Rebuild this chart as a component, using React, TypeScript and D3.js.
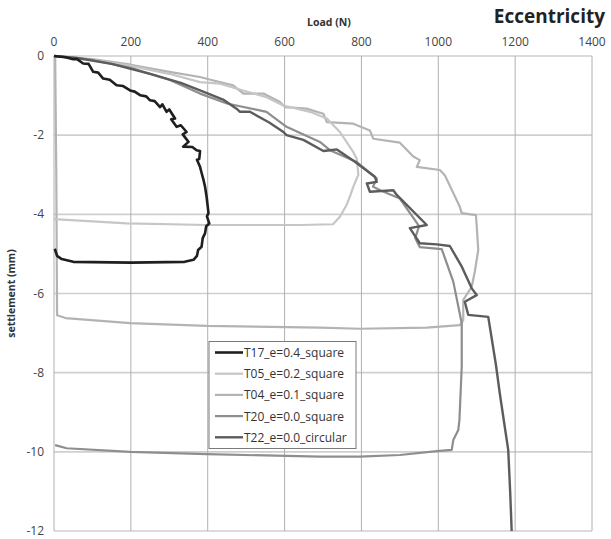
import React from "react";
import * as d3 from "d3";

const xTicks = [0, 200, 400, 600, 800, 1000, 1200, 1400];
const yTicks = [0, -2, -4, -6, -8, -10, -12];

const seriesNames = ["T17_e=0.4_square", "T05_e=0.2_square", "T04_e=0.1_square", "T20_e=0.0_square", "T22_e=0.0_circular"];
const seriesColors = ["#1f1f1f", "#c6c6c6", "#b3b3b3", "#8e8e8e", "#5c5c5c"];
const seriesWidths = [2.6, 2.2, 2.2, 2.2, 2.4];

const t17: [number, number][] = [[0,0],[30,-0.03],[50,-0.08],[60,-0.08],[76,-0.19],[90,-0.2],[102,-0.4],[115,-0.42],[128,-0.57],[145,-0.6],[163,-0.74],[180,-0.76],[198,-0.87],[210,-0.9],[224,-0.99],[240,-1.02],[250,-1.12],[262,-1.14],[276,-1.29],[282,-1.22],[293,-1.41],[300,-1.35],[315,-1.58],[305,-1.6],[319,-1.79],[330,-1.75],[345,-1.92],[335,-1.98],[350,-2.17],[336,-2.29],[360,-2.3],[371,-2.38],[380,-2.4],[378,-2.6],[372,-2.62],[380,-2.8],[384,-2.95],[389,-3.13],[393,-3.3],[397,-3.55],[400,-3.8],[402,-3.97],[398,-4.05],[404,-4.23],[396,-4.3],[393,-4.48],[387,-4.6],[384,-4.82],[375,-4.9],[372,-5.05],[363,-5.15],[340,-5.2],[200,-5.22],[50,-5.2],[20,-5.13],[8,-5.05],[2,-4.87]];

const t05: [number, number][] = [[0,0],[100,-0.1],[200,-0.25],[300,-0.45],[380,-0.66],[432,-0.7],[492,-0.87],[553,-1.04],[597,-1.25],[666,-1.41],[710,-1.58],[744,-1.92],[779,-2.43],[788,-2.6],[792,-3.0],[779,-3.3],[770,-3.55],[762,-3.75],[744,-4.06],[726,-4.25],[640,-4.27],[397,-4.27],[189,-4.23],[0,-4.12]];

const t04: [number, number][] = [[0,0],[100,-0.08],[200,-0.22],[300,-0.4],[380,-0.53],[415,-0.62],[466,-0.74],[493,-0.95],[545,-0.95],[588,-1.16],[601,-1.29],[657,-1.33],[701,-1.46],[710,-1.67],[779,-1.71],[822,-1.88],[831,-2.09],[900,-2.19],[935,-2.54],[952,-2.63],[944,-2.8],[1004,-2.88],[1017,-3.01],[1056,-3.81],[1061,-3.97],[1098,-4.02],[1100,-4.3],[1104,-4.9],[1095,-5.45],[1087,-5.83],[1065,-6.16],[1065,-6.67],[1056,-6.8],[970,-6.86],[796,-6.89],[692,-6.86],[397,-6.82],[198,-6.75],[30,-6.62],[8,-6.55],[6,-3],[3,0]];

const t20: [number, number][] = [[0,0],[100,-0.1],[200,-0.3],[300,-0.6],[380,-0.95],[450,-1.2],[553,-1.41],[605,-1.79],[692,-2.17],[718,-2.38],[788,-2.68],[814,-2.89],[840,-3.1],[830,-3.3],[850,-3.4],[900,-3.6],[950,-4.3],[940,-4.6],[952,-4.83],[1009,-4.88],[1039,-5.7],[1061,-6.75],[1061,-7.85],[1055,-9.2],[1052,-9.45],[1039,-9.7],[1035,-9.95],[996,-9.98],[900,-10.08],[796,-10.12],[692,-10.12],[397,-10.06],[198,-10.0],[33,-9.91],[3,-9.83]];

const t22: [number, number][] = [[0,0],[60,-0.05],[150,-0.2],[250,-0.45],[330,-0.68],[380,-0.87],[440,-1.1],[475,-1.33],[484,-1.41],[510,-1.41],[560,-1.68],[597,-1.92],[605,-2.0],[649,-2.12],[701,-2.4],[718,-2.38],[736,-2.36],[783,-2.67],[835,-3.05],[840,-3.18],[814,-3.22],[822,-3.43],[883,-3.39],[892,-3.51],[970,-4.27],[926,-4.35],[952,-4.73],[996,-4.76],[1030,-4.8],[1060,-5.3],[1087,-5.87],[1100,-6.04],[1069,-6.21],[1078,-6.54],[1130,-6.59],[1150,-7.8],[1160,-8.52],[1175,-9.5],[1182,-9.95],[1187,-11],[1191,-12]];

const allSeries = [t17, t05, t04, t20, t22];

export default function App() {
  const x = d3.scaleLinear().domain([0, 1400]).range([54, 592]);
  const y = d3.scaleLinear().domain([0, -12]).range([56, 531]);
  const line = d3.line<[number, number]>().x((d) => x(d[0])).y((d) => y(d[1]));
  const font = "'Open Sans', 'DejaVu Sans', sans-serif";
  const drawOrder = [2, 1, 3, 4, 0];
  return (
    <svg width={611} height={539} style={{ position: "absolute", left: 0, top: 0, background: "#fff" }} fontFamily={font}>
      {yTicks.map((t) => (
        <line key={"h" + t} x1={x(0)} x2={x(1400)} y1={y(t)} y2={y(t)} stroke="#cfcfcf" strokeWidth={1.6} />
      ))}
      {xTicks.map((t) => (
        <line key={"v" + t} x1={x(t)} x2={x(t)} y1={y(0)} y2={y(-12)} stroke="#b0b0b0" strokeWidth={1} />
      ))}
      {xTicks.map((t) => (
        <text key={"xt" + t} x={x(t)} y={46} textAnchor="middle" fontSize={12} fill="#444">{t}</text>
      ))}
      {yTicks.map((t) => (
        <text key={"yt" + t} x={44} y={y(t) + 4} textAnchor="end" fontSize={12} fill="#444">{t}</text>
      ))}
      <text x={329} y={26} textAnchor="middle" fontSize={10.5} fontWeight="bold" fill="#333">Load (N)</text>
      <text x={605} y={23} textAnchor="end" fontSize={19} fontWeight="bold" fill="#222">Eccentricity</text>
      <text transform={`translate(15,${(y(0) + y(-12)) / 2}) rotate(-90)`} textAnchor="middle" fontSize={10.5} fontWeight="bold" fill="#333">settlement (mm)</text>
      {drawOrder.map((i) => (
        <path key={"s" + i} d={line(allSeries[i]) || ""} fill="none" stroke={seriesColors[i]} strokeWidth={seriesWidths[i]} strokeLinejoin="round" />
      ))}
      <rect x={209} y={341.5} width={147} height={107} fill="#fff" stroke="#7a7a7a" strokeWidth={1} />
      {seriesNames.map((n, i) => (
        <g key={"lg" + i}>
          <line x1={215} x2={243} y1={352.5 + i * 21.2} y2={352.5 + i * 21.2} stroke={seriesColors[i]} strokeWidth={seriesWidths[i]} />
          <text x={244} y={352.5 + i * 21.2 + 4.5} fontSize={12} fill="#333">{n}</text>
        </g>
      ))}
    </svg>
  );
}
